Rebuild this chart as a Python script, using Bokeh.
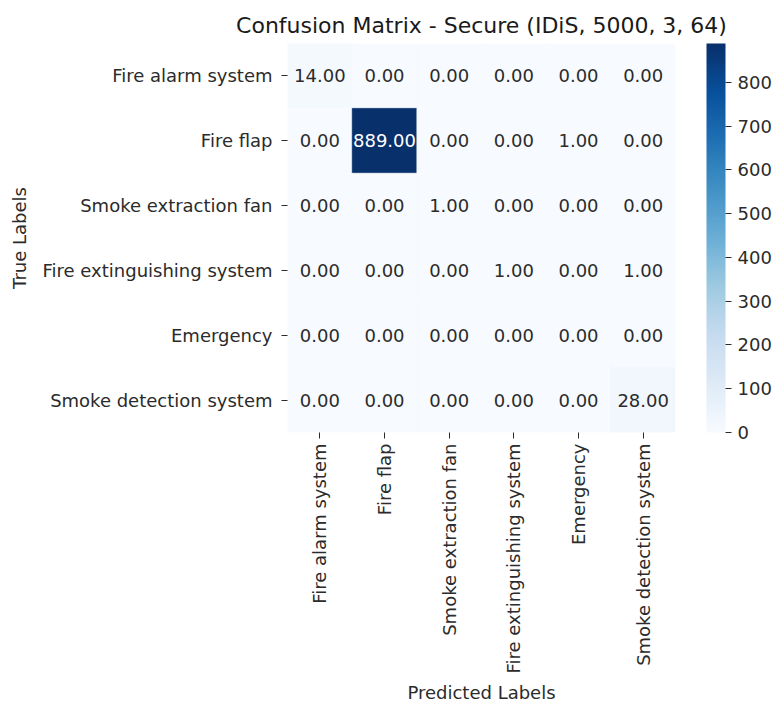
import math
from bokeh.plotting import figure
from bokeh.models import ColumnDataSource, LinearColorMapper, ColorBar, FixedTicker
from bokeh.palettes import Blues256
from bokeh.core.properties import value
from bokeh.embed import file_html
from bokeh.resources import INLINE

labels = ["Fire alarm system", "Fire flap", "Smoke extraction fan",
          "Fire extinguishing system", "Emergency", "Smoke detection system"]
row_fire_alarm = [14, 0, 0, 0, 0, 0]
row_fire_flap = [0, 889, 0, 0, 1, 0]
row_smoke_fan = [0, 0, 1, 0, 0, 0]
row_extinguish = [0, 0, 0, 1, 0, 1]
row_emergency = [0, 0, 0, 0, 0, 0]
row_smoke_detect = [0, 0, 0, 0, 0, 28]
cb_ticks = [0, 100, 200, 300, 400, 500, 600, 700, 800]

rows = [row_fire_alarm, row_fire_flap, row_smoke_fan, row_extinguish, row_emergency, row_smoke_detect]
vmax = max(max(r) for r in rows)

xs, ys, vs, txt, tcol = [], [], [], [], []
for i, r in enumerate(rows):
    for j, v in enumerate(r):
        xs.append(labels[j])
        ys.append(labels[i])
        vs.append(v)
        txt.append(f"{v:.2f}")
        tcol.append("#ffffff" if v > 0.5 * vmax else "#2b2b2b")
src = ColumnDataSource(dict(x=xs, y=ys, v=vs, t=txt, c=tcol))

FONT = "DejaVu Sans"
mapper = LinearColorMapper(palette=tuple(reversed(Blues256)), low=0, high=vmax)

p = figure(x_range=labels, y_range=list(reversed(labels)),
           frame_width=388, frame_height=389,
           output_backend="svg", toolbar_location=None,
           title="Confusion Matrix - Secure (IDiS, 5000, 3, 64)")
p.min_border_left = 287
p.min_border_top = 43
p.min_border_right = 0
p.min_border_bottom = 0

p.rect(x="x", y="y", width=1, height=1, source=src,
       fill_color={"field": "v", "transform": mapper},
       line_color={"field": "v", "transform": mapper}, line_width=0.5)
p.text(x="x", y="y", text="t", source=src, text_color="c",
       text_align="center", text_baseline="middle",
       text_font=value(FONT), text_font_size="18px")

p.title.align = "center"
p.title.text_font = FONT
p.title.text_font_size = "22px"
p.title.text_font_style = "normal"
p.title.text_color = "#1a1a1a"
p.title.standoff = 11

p.grid.visible = False
p.outline_line_color = None
for ax in (p.xaxis, p.yaxis):
    ax.axis_line_color = None
    ax.major_tick_in = 0
    ax.major_tick_out = 6
    ax.minor_tick_line_color = None
    ax.major_tick_line_color = "#2b2b2b"
    ax.major_label_text_font = FONT
    ax.major_label_text_font_size = "18px"
    ax.major_label_text_color = "#2b2b2b"
    ax.axis_label_text_font = FONT
    ax.axis_label_text_font_size = "18px"
    ax.axis_label_text_font_style = "normal"
    ax.axis_label_text_color = "#2b2b2b"
p.xaxis.axis_label = "Predicted Labels"
p.yaxis.axis_label = "True Labels"
p.xaxis.major_label_orientation = math.pi / 2
p.xaxis.major_label_standoff = 5
p.yaxis.major_label_standoff = 9
p.xaxis.axis_label_standoff = 6
p.yaxis.axis_label_standoff = 10

cb = ColorBar(color_mapper=mapper, ticker=FixedTicker(ticks=cb_ticks),
              width=19, height=389, padding=0, margin=0, location=(31, 0),
              major_tick_in=0, major_tick_out=6, major_tick_line_color="#2b2b2b",
              minor_tick_line_color=None, bar_line_color=None,
              label_standoff=6,
              major_label_text_font=FONT, major_label_text_font_size="18px",
              major_label_text_color="#2b2b2b")
p.add_layout(cb, "right")

open("out.html", "w").write(file_html(p, INLINE))
